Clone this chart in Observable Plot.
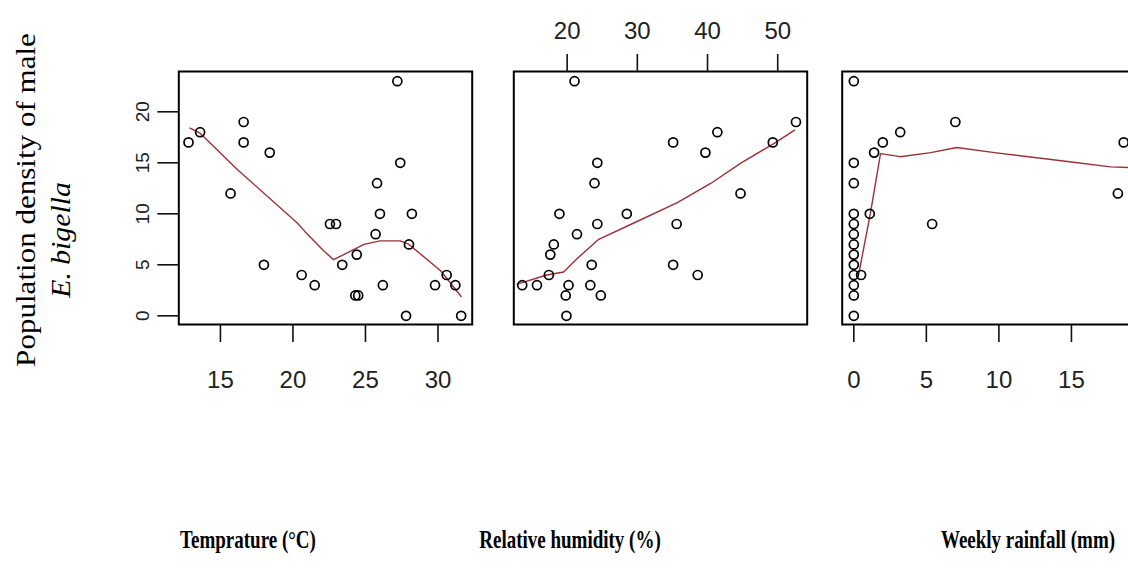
<!DOCTYPE html>
<html><head><meta charset="utf-8">
<script src="https://cdn.jsdelivr.net/npm/d3@7"></script>
<script src="https://cdn.jsdelivr.net/npm/@observablehq/plot@0.6"></script>
<style>
body{margin:0;background:#fff;}
#wrap{position:relative;width:1128px;height:568px;overflow:hidden;background:#fff;}
#wrap svg{position:absolute;top:0;max-width:none;}
.lab{position:absolute;font-family:"Liberation Serif","Times New Roman",serif;color:#000;white-space:nowrap;line-height:1;}
</style></head><body><div id="wrap"></div>
<script>
// Panel 1: temperature
const tempX = [27.2,16.6,13.6,12.8,16.6,18.4,27.4,15.7,25.8,26.0,28.2,22.55,22.97,25.7,28.0,24.4,23.4,18.0,20.6,30.6,21.5,26.2,29.8,31.2,24.3,24.5,27.8,31.6];
const tempY = [23,19,18,17,17,16,15,12,13,10,10,9,9,8,7,6,5,5,4,4,3,3,3,3,2,2,0,0];
const tempLineX = [12.9,13.6,16.2,20.3,20.8,22.1,22.8,23.5,24.9,26.0,27.4,28.0,30.2,31.6];
const tempLineY = [18.4,17.9,14.3,9.1,8.3,6.4,5.5,6.0,7.0,7.35,7.35,7.0,4.4,1.9];
const tempTicks = [15,20,25,30];
// Panel 2: relative humidity
const humX = [21.05,52.6,41.4,35.1,49.3,39.7,24.3,23.9,44.7,18.9,28.5,24.3,35.6,21.4,18.1,17.6,23.5,35.1,17.4,38.6,13.6,15.7,20.2,23.3,19.8,24.8,19.9];
const humY = [23,19,18,17,17,16,15,13,12,10,10,9,9,8,7,6,5,5,4,4,3,3,3,3,2,2,0];
const humLineX = [12.9,17.1,19.5,21.4,24.5,29.5,35.7,40.5,44.8,49.5,52.4];
const humLineY = [3.1,4.0,4.3,5.6,7.5,9.1,11.1,13.0,15.0,16.9,18.2];
const humTicks = [20,30,40,50];
// Panel 3: weekly rainfall
const rainX = [0,7.0,3.2,2.0,18.6,1.4,0,0,18.2,0,1.1,5.4,0,0,0,0,0,0,0.5,0,0,0];
const rainY = [23,19,18,17,17,16,15,13,12,10,10,9,9,8,7,6,5,4,4,3,2,0];
const rainLineX = [0.34,1.15,1.84,3.2,5.3,7.1,9.7,14.3,17.7,19.5];
const rainLineY = [4.1,10.1,15.9,15.6,16.0,16.5,16.0,15.2,14.6,14.5];
const rainTicks = [0,5,10,15];
const yTicks = [0,5,10,15,20];

const yLabel1 = "Population density of male";
const yLabel2 = "E. bigella";
const xLabels = ["Temprature (°C)", "Relative humidity (%)", "Weekly rainfall (mm)"];

const wrap = document.getElementById("wrap");
const H = 420, mTop = 71, mBottom = H - 324;
const yDomain = [-0.85, 23.95];
const tickFont = "Liberation Sans, Arial, sans-serif";

function panel({xs, ys, lx, ly, xDomain, xTicks, left, width, mL, mR, xAnchor, showY}) {
  const pts = xs.map((x, i) => ({x, y: ys[i]}));
  const line = lx.map((x, i) => ({x, y: ly[i]}));
  const marks = [
    Plot.frame({stroke: "black", strokeWidth: 2}),
    Plot.line(line, {x: "x", y: "y", stroke: "#9c3035", strokeWidth: 1.4}),
    Plot.dot(pts, {x: "x", y: "y", r: 4.5, stroke: "black", strokeWidth: 1.7, fill: "none"}),
    Plot.axisX({anchor: xAnchor, ticks: xTicks, label: null, tickSize: 18, tickPadding: xAnchor === "top" ? 15 : 28,
      fontSize: 24, fontFamily: tickFont, fill: "#222", stroke: "#111", strokeWidth: 1.6})
  ];
  if (showY) marks.push(Plot.axisY({anchor: "left", ticks: yTicks, label: null, tickSize: 21, tickPadding: 9, tickRotate: -90,
      fontSize: 19, fontFamily: tickFont, fill: "#222", stroke: "#111", strokeWidth: 1.6}));
  const svg = Plot.plot({
    width, height: H, marginLeft: mL, marginRight: mR, marginTop: mTop, marginBottom: mBottom,
    x: {domain: xDomain, label: null},
    y: {domain: yDomain, label: null, axis: showY ? undefined : null},
    style: {background: "transparent", fontFamily: tickFont},
    marks
  });
  svg.style.left = left + "px";
  wrap.appendChild(svg);
}

panel({xs: tempX, ys: tempY, lx: tempLineX, ly: tempLineY, xDomain: [12.13, 32.36], xTicks: tempTicks,
  left: 100, width: 400, mL: 78.3, mR: 400 - 78.3 - 293.4, xAnchor: "bottom", showY: true});
panel({xs: humX, ys: humY, lx: humLineX, ly: humLineY, xDomain: [12.4, 54.2], xTicks: humTicks,
  left: 480, width: 360, mL: 33.3, mR: 360 - 33.3 - 293.4, xAnchor: "top", showY: false});
panel({xs: rainX, ys: rainY, lx: rainLineX, ly: rainLineY, xDomain: [-0.8, 20.8], xTicks: rainTicks,
  left: 800, width: 400, mL: 41.7, mR: 400 - 41.7 - 313.4, xAnchor: "bottom", showY: false});

function label(text, cx, cy, css, transform) {
  const d = document.createElement("div");
  d.className = "lab";
  d.textContent = text;
  Object.assign(d.style, css);
  d.style.left = cx + "px";
  d.style.top = cy + "px";
  d.style.transform = "translate(-50%,-50%) " + transform;
  wrap.appendChild(d);
}
label(yLabel1, 26, 200, {fontSize: "27px"}, "rotate(-90deg) scaleX(1.15)");
label(yLabel2, 61, 240, {fontSize: "27px", fontStyle: "italic"}, "rotate(-90deg) scaleX(1.1)");
const xl = [248, 570, 1028];
xLabels.forEach((t, i) => label(t, xl[i], 540, {fontSize: "19px", fontWeight: "bold"}, "scaleY(1.3)"));
</script></body></html>
